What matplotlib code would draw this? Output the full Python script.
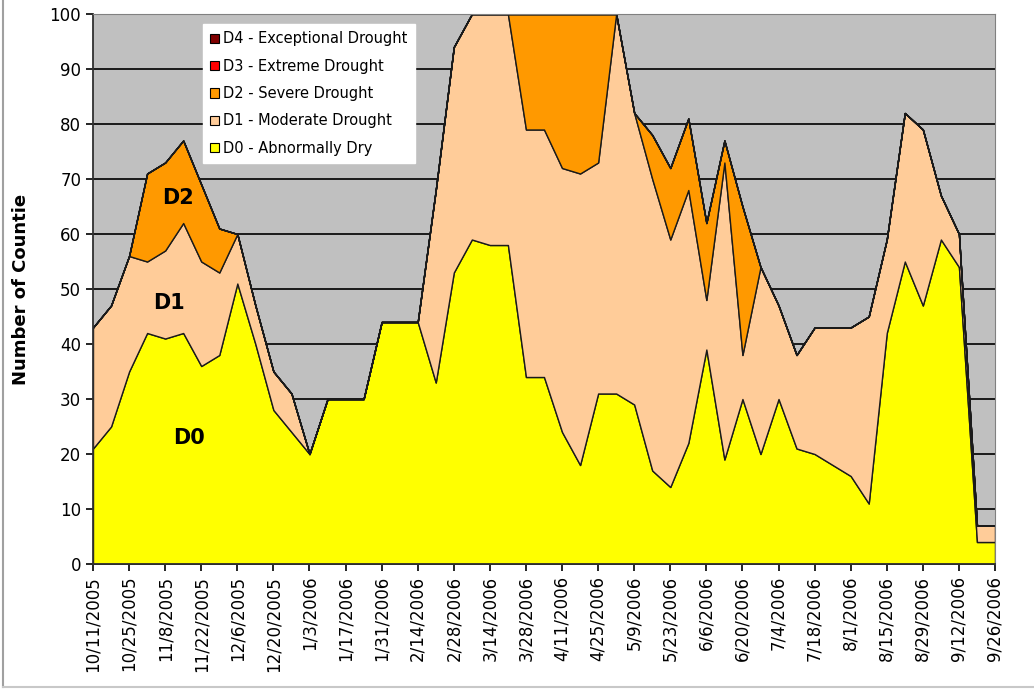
import numpy as np
import pandas as pd
import matplotlib
matplotlib.use("Agg")
import matplotlib.pyplot as plt
from matplotlib.patches import Patch
from matplotlib.lines import Line2D

plt.rcParams['font.family'] = ['DejaVu Sans']

# weekly drought monitor dates
weeks = pd.date_range('2005-10-11', periods=51, freq='7D')
week_labels = [f"{d.month}/{d.day}/{d.year}" for d in weeks]

# number of counties in each category (stacked)
d0 = [21, 25, 35, 42, 41, 42, 36, 38, 51, 40,
      28, 24, 20, 30, 30, 30, 44, 44, 44, 33,
      53, 59, 58, 58, 34, 34, 24, 18, 31, 31,
      29, 17, 14, 22, 39, 19, 30, 20, 30, 21,
      20, 18, 16, 11, 42, 55, 47, 59, 54, 4, 4]
d1 = [22, 22, 21, 13, 16, 20, 19, 15, 9, 7,
      7, 7, 0, 0, 0, 0, 0, 0, 0, 35,
      41, 41, 42, 42, 45, 45, 48, 53, 42, 69,
      53, 53, 45, 46, 9, 54, 8, 34, 17, 17,
      23, 25, 27, 34, 17, 27, 32, 8, 6, 3, 3]
d2 = [0, 0, 0, 16, 16, 15, 14, 8, 0, 0,
      0, 0, 0, 0, 0, 0, 0, 0, 0, 0,
      0, 0, 0, 0, 21, 21, 28, 29, 27, 0,
      0, 8, 13, 13, 14, 4, 27, 0, 0, 0,
      0, 0, 0, 0, 0, 0, 0, 0, 0, 0, 0]
d3 = [0] * 51
d4 = [0] * 51

names = ['D0 - Abnormally Dry', 'D1 - Moderate Drought', 'D2 - Severe Drought',
         'D3 - Extreme Drought', 'D4 - Exceptional Drought']
colors = ['#FFFF00', '#FFCC99', '#FF9900', '#FF0000', '#800000']

fig = plt.figure(figsize=(10.34, 6.90), dpi=100)
ax = fig.add_axes([93 / 1034, 1 - 564 / 690, 902 / 1034, 550 / 690])
ax.set_facecolor('#C0C0C0')

x = np.arange(len(weeks))
ax.stackplot(x, d0, d1, d2, d3, d4, colors=colors, edgecolor='#1a1a1a',
             linewidth=1.0, zorder=2)

ax.set_xlim(0, len(weeks) - 1)
ax.set_ylim(0, 100)
ax.set_yticks(range(0, 101, 10))
ax.yaxis.grid(True, color='#1a1a1a', linewidth=1.4, zorder=1)
ax.set_axisbelow(True)
ax.set_xticks(x[::2])
ax.set_xticklabels(week_labels[::2], rotation=90, fontsize=12)
ax.tick_params(axis='y', labelsize=12, length=5, width=1.2, direction='out')
ax.tick_params(axis='x', length=5, width=1.2, direction='out')
for s in ['top', 'right']:
    ax.spines[s].set_color('#808080')
for s in ['left', 'bottom']:
    ax.spines[s].set_color('#303030')
    ax.spines[s].set_linewidth(1.3)

ax.set_ylabel('Number of Countie', fontsize=13, fontweight='bold', labelpad=14)

# category labels
ax.text(4.7, 66.5, 'D2', fontsize=15, fontweight='bold', ha='center', va='center')
ax.text(4.2, 47.5, 'D1', fontsize=15, fontweight='bold', ha='center', va='center')
ax.text(5.3, 23, 'D0', fontsize=15, fontweight='bold', ha='center', va='center')

handles = [Patch(facecolor=c, edgecolor='black', linewidth=0.8) for c in colors]
leg = ax.legend(handles[::-1], names[::-1], loc='upper left',
                bbox_to_anchor=(110 / 902, 540 / 550), borderaxespad=0,
                fontsize=10.5, handlelength=0.6, handleheight=0.6,
                handletextpad=0.3, labelspacing=0.85, borderpad=0.5,
                fancybox=False, framealpha=1, edgecolor='white')
leg.set_zorder(5)

# outer chart frame
fig.add_artist(Line2D([3 / 1034, 3 / 1034], [3 / 690, 1], color='#a0a0a0', lw=1.5))
fig.add_artist(Line2D([3 / 1034, 1], [3 / 690, 3 / 690], color='#c8c8c8', lw=1.5))

fig.savefig('out.png', dpi=100)
